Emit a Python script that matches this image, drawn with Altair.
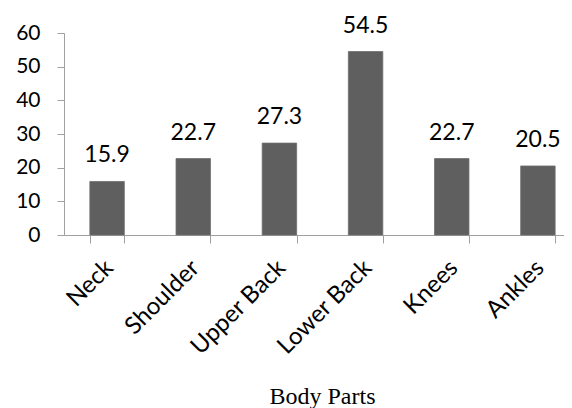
import altair as alt
import pandas as pd

parts = ["Neck", "Shoulder", "Upper Back", "Lower Back", "Knees", "Ankles"]
values = [15.9, 22.7, 27.3, 54.5, 22.7, 20.5]
y_ticks = [0, 10, 20, 30, 40, 50, 60]

df = pd.DataFrame({"part": parts, "value": values})
df["label"] = df["value"].map(lambda v: f"{v:.1f}")

FONT = "Lato"
AXIS_GRAY = "#a0a0a0"

x = alt.X(
    "part:N",
    sort=parts,
    title="Body Parts",
    scale=alt.Scale(paddingInner=0.6, paddingOuter=0.3, range=[0, 517]),
    axis=alt.Axis(
        labelAngle=-45,
        labelAlign="right",
        labelBaseline="middle",
        labelFont=FONT,
        labelFontSize=24,
        labelColor="#000000",
        labelPadding=21,
        labelOffset=2,
        tickBand="extent",
        tickSize=8,
        tickColor=AXIS_GRAY,
        domainColor=AXIS_GRAY,
        titleFont="Liberation Serif",
        titleFontSize=24,
        titleFontWeight="normal",
        titleColor="#000000",
        titlePadding=25,
        titleX=258,
    ),
)

y = alt.Y(
    "value:Q",
    title=None,
    scale=alt.Scale(domain=[0, 60], nice=False),
    axis=alt.Axis(
        values=y_ticks,
        grid=False,
        labelOverlap=False,
        labelFont=FONT,
        labelFontSize=21,
        labelColor="#000000",
        labelPadding=17,
        tickSize=7,
        tickColor=AXIS_GRAY,
        domainColor=AXIS_GRAY,
    ),
)

base = alt.Chart(df).encode(x=x, y=y)

bars = base.mark_bar(color="#5f5f5f", stroke="#6e6e6e", strokeWidth=0.8)

labels = base.mark_text(
    font=FONT, fontSize=23, color="#000000", baseline="alphabetic", dy=-19
).encode(text="label:N")

chart = alt.layer(bars, labels).properties(
    width=500,
    height=202,
    padding={"left": 56, "top": 25, "right": 0, "bottom": 180},
    autosize=alt.AutoSizeParams(type="none"),
).configure_view(stroke=None)

chart.save("out.html", embed_options={"renderer": "svg", "actions": False})
